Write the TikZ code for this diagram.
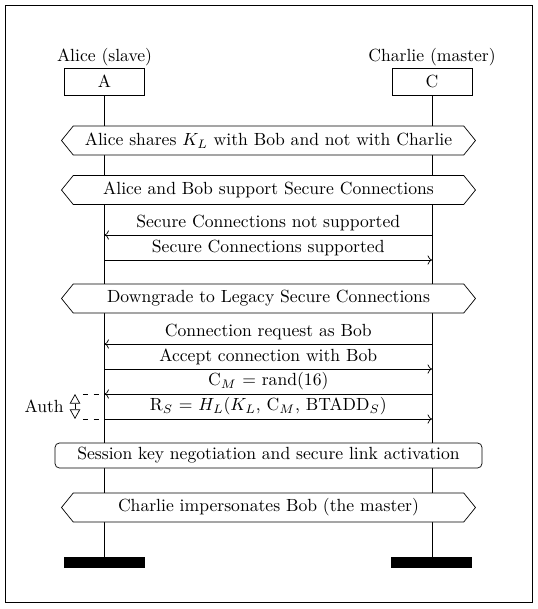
\documentclass[tikz,border=0pt]{standalone}
\usepackage{amsmath}
\usepackage{tikz}
\usetikzlibrary{arrows.meta,calc,positioning,shapes.symbols}

\newcommand{\unitpx}{0.568pt}

\begin{document}
\begin{tikzpicture}[x=\unitpx,y=-\unitpx,>=To,
  inst/.style={draw,fill=white,minimum width=80*\unitpx,minimum height=27*\unitpx,inner sep=0pt},
  endbar/.style={fill=black,minimum width=81*\unitpx,minimum height=11*\unitpx,inner sep=0pt},
  banner/.style={signal,signal to=east and west,draw,fill=white,
    minimum width=414*\unitpx,minimum height=29*\unitpx,inner sep=0pt,signal pointer angle=102},
  actbox/.style={draw,fill=white,rounded corners=2.5pt,minimum width=427*\unitpx,
    minimum height=25*\unitpx,inner sep=0pt},
  msg/.style={->},
  msglabel/.style={above,inner sep=2pt}]
  \useasboundingbox (0,0) rectangle (538,609);
  \draw (5,5) rectangle (532,602);

  % instances
  \node[inst] (A) at (104.5,81.5) {A};
  \node[inst] (C) at (432,81.5) {C};
  \node (alice) at (104.5,57) {Alice (slave)};
  \node (charlie) at (432,57) {Charlie (master)};
  \node[endbar] (endA) at (104.5,562.5) {};
  \node[endbar] (endC) at (432,562.5) {};
  \draw (A.south) -- (endA.north);
  \draw (C.south) -- (endC.north);

  % points on the lifelines
  \foreach \n/\y in {1/235,2/260,3/344,4/369,5/394,6/419} {
    \coordinate (a\n) at (104.5,\y);
    \coordinate (c\n) at (432,\y);
  }

  \node[banner] (b1) at (268.5,140.5) {Alice shares $K_L$ with Bob and not with Charlie};
  \node[banner] (b2) at (268.5,190) {Alice and Bob support Secure Connections};

  \draw[msg] (c1) -- node[msglabel] {Secure Connections not supported} (a1);
  \draw[msg] (a2) -- node[msglabel] {Secure Connections supported} (c2);

  \node[banner] (b3) at (268.5,298.5) {Downgrade to Legacy Secure Connections};

  \draw[msg] (c3) -- node[msglabel] {Connection request as Bob} (a3);
  \draw[msg] (a4) -- node[msglabel] {Accept connection with Bob} (c4);
  \draw[msg] (c5) -- node[msglabel] {C$_M$ = rand(16)} (a5);
  \draw[msg] (a6) -- node[msglabel] {R$_S$ = $H_L(K_L$, C$_M$, BTADD$_S)$} (c6);

  % auth bracket
  \coordinate (u5) at (83,394);
  \coordinate (u6) at (83,419);
  \draw[dashed] (u5) -- (a5);
  \draw[dashed] (u6) -- (a6);
  \draw[{Triangle[open,length=5.5pt,width=6pt]}-{Triangle[open,length=5.5pt,width=6pt]}]
    (75,394) -- (75,419);
  \node[left] (auth) at (70,406.5) {Auth};

  \node[actbox] (sk) at (268.5,455.5) {Session key negotiation and secure link activation};
  \node[banner] (b4) at (268.5,507.5) {Charlie impersonates Bob (the master)};
\end{tikzpicture}
\end{document}
